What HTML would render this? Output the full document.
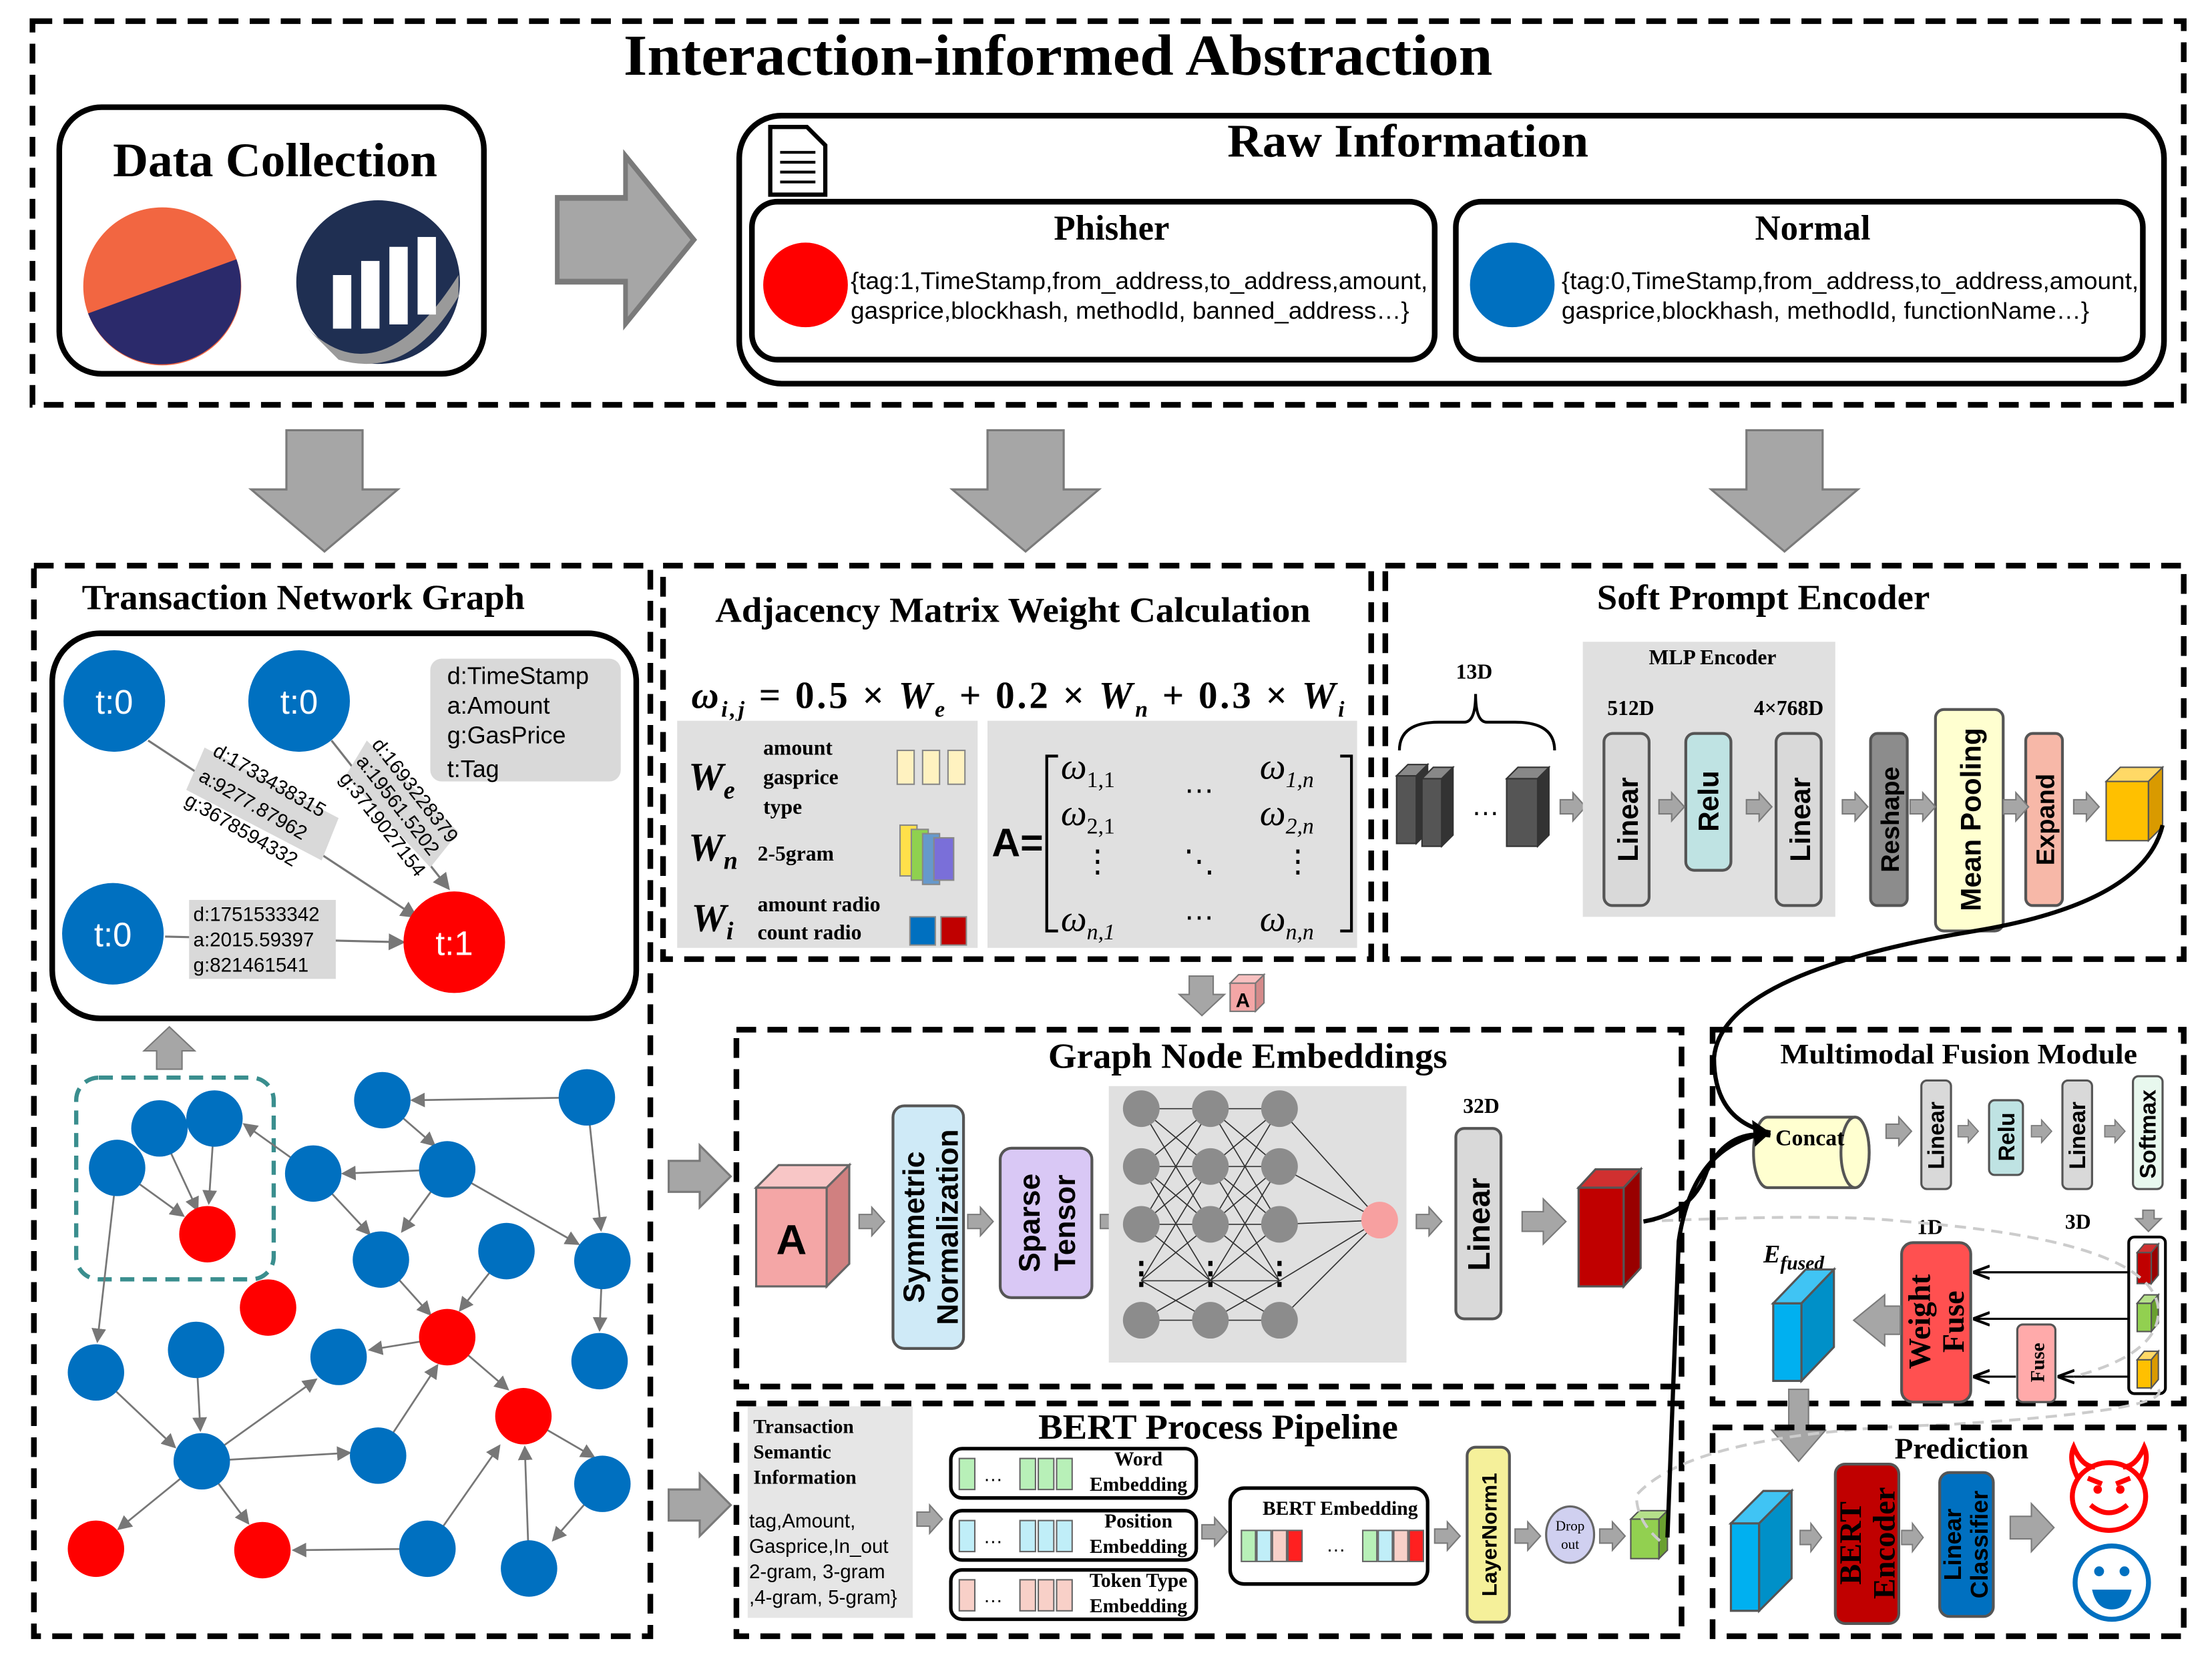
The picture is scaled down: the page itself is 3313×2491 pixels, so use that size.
<!DOCTYPE html>
<html><head><meta charset="utf-8"><style>html,body{margin:0;padding:0;background:#fff}svg{display:block}</style></head>
<body>
<svg width="3313" height="2491" viewBox="0 0 1568 1179" xmlns="http://www.w3.org/2000/svg" font-family="Liberation Sans, sans-serif">
<defs>
<g id="ra"><polygon points="0,-5 9,-5 9,-10 18,0 9,10 9,5 0,5" fill="#a6a6a6" stroke="#7a7a7a" stroke-width="1"/></g>
<g id="bra"><polygon points="0,-11 22,-11 22,-22 44,0 22,22 22,11 0,11" fill="#a6a6a6" stroke="#7a7a7a" stroke-width="1.5"/></g>
<g id="da"><polygon points="-27,0 27,0 27,42 52,42 0,86 -52,42 -27,42" fill="#a6a6a6" stroke="#7a7a7a" stroke-width="1.5"/></g>
<marker id="ah" markerWidth="8" markerHeight="8" refX="7" refY="4" orient="auto"><path d="M0,0 L8,4 L0,8 z" fill="#777"/></marker>
<marker id="ahb" markerWidth="8" markerHeight="8" refX="7" refY="4" orient="auto"><path d="M0,1 L8,4 L0,7" fill="none" stroke="#000" stroke-width="1.3"/></marker>
</defs>
<rect width="1568" height="1179" fill="#fff"/>

<!-- TOP -->
<rect x="23" y="15" width="1525" height="272" fill="none" stroke="#000" stroke-width="4" stroke-dasharray="14,8"/>
<text x="442" y="53" font-family="Liberation Serif, serif" font-weight="bold" font-size="41" textLength="616" lengthAdjust="spacingAndGlyphs">Interaction-informed Abstraction</text>
<rect x="42" y="76" width="301" height="189" rx="30" fill="#fff" stroke="#000" stroke-width="4"/>
<text x="80" y="125" font-family="Liberation Serif, serif" font-weight="bold" font-size="34" textLength="230" lengthAdjust="spacingAndGlyphs">Data Collection</text>
<circle cx="115" cy="203" r="56" fill="#f26641"/>
<path d="M62.4,222.2 L167.6,183.8 A56,56 0 0 1 62.4,222.2 Z" fill="#2b2a6b"/>
<circle cx="268" cy="200" r="58" fill="#1f2f52"/>
<path d="M215,230 Q268,285 325,195 L325,210 Q290,270 240,255 Z" fill="#9a9a9a"/>
<g fill="#fff"><rect x="236" y="195" width="13" height="38"/><rect x="256" y="185" width="13" height="48"/><rect x="276" y="175" width="13" height="55"/><rect x="296" y="168" width="13" height="55"/></g>
<use href="#bra" transform="translate(395,170) scale(2.2,2.7)"/>
<rect x="524" y="82" width="1010" height="190" rx="30" fill="none" stroke="#000" stroke-width="4"/>
<text x="870" y="111" font-family="Liberation Serif, serif" font-weight="bold" font-size="33" textLength="256" lengthAdjust="spacingAndGlyphs">Raw Information</text>
<path d="M546,90 L572,90 L585,103 L585,138 L546,138 Z" fill="#fff" stroke="#000" stroke-width="3"/>
<g stroke="#000" stroke-width="2"><line x1="553" y1="108" x2="578" y2="108"/><line x1="553" y1="115" x2="578" y2="115"/><line x1="553" y1="122" x2="578" y2="122"/><line x1="553" y1="129" x2="578" y2="129"/></g>
<rect x="533" y="143" width="484" height="112" rx="18" fill="none" stroke="#000" stroke-width="4"/>
<text x="788" y="170" font-family="Liberation Serif, serif" font-weight="bold" font-size="25" text-anchor="middle">Phisher</text>
<circle cx="571" cy="202" r="30" fill="#ff0000"/>
<text x="603" y="205" font-size="17" textLength="409" lengthAdjust="spacingAndGlyphs">{tag:1,TimeStamp,from_address,to_address,amount,</text>
<text x="603" y="226" font-size="17" textLength="396" lengthAdjust="spacingAndGlyphs">gasprice,blockhash, methodId, banned_address…}</text>
<rect x="1032" y="143" width="487" height="112" rx="18" fill="none" stroke="#000" stroke-width="4"/>
<text x="1285" y="170" font-family="Liberation Serif, serif" font-weight="bold" font-size="25" text-anchor="middle">Normal</text>
<circle cx="1072" cy="202" r="30" fill="#0070c0"/>
<text x="1107" y="205" font-size="17" textLength="409" lengthAdjust="spacingAndGlyphs">{tag:0,TimeStamp,from_address,to_address,amount,</text>
<text x="1107" y="226" font-size="17" textLength="374" lengthAdjust="spacingAndGlyphs">gasprice,blockhash, methodId, functionName…}</text>

<use href="#da" x="230" y="305"/>
<use href="#da" x="727" y="305"/>
<use href="#da" x="1265" y="305"/>

<!-- TRANSACTION NETWORK GRAPH -->
<rect x="24" y="401" width="437" height="759" fill="none" stroke="#000" stroke-width="4" stroke-dasharray="14,8"/>
<text x="58" y="432" font-family="Liberation Serif, serif" font-weight="bold" font-size="25" textLength="314" lengthAdjust="spacingAndGlyphs">Transaction Network Graph</text>
<rect x="37" y="449" width="414" height="273" rx="34" fill="none" stroke="#000" stroke-width="4"/>
<rect x="305" y="467" width="135" height="87" rx="8" fill="#d9d9d9"/>
<g font-size="17"><text x="317" y="485">d:TimeStamp</text><text x="317" y="506">a:Amount</text><text x="317" y="527">g:GasPrice</text><text x="317" y="551">t:Tag</text></g>
<g stroke="#777" stroke-width="1.5" marker-end="url(#ah)"><line x1="105" y1="525" x2="295" y2="650"/><line x1="235" y1="525" x2="318" y2="630"/><line x1="117" y1="664" x2="286" y2="668"/></g>
<g fill="#d9d9d9"><polygon points="145,530 240,580 228,610 132,560"/><polygon points="260,525 325,590 305,615 245,550"/><rect x="134" y="638" width="104" height="56"/></g>
<g font-size="14"><text transform="translate(150,535) rotate(30)">d:1733438315</text><text transform="translate(140,553) rotate(30)">a:9277.87962</text><text transform="translate(130,570) rotate(30)">g:3678594332</text>
<text transform="translate(263,528) rotate(52)">d:1693228379</text><text transform="translate(252,540) rotate(52)">a:19561.5202</text><text transform="translate(240,552) rotate(52)">g:3719027154</text>
<text x="137" y="653">d:1751533342</text><text x="137" y="671">a:2015.59397</text><text x="137" y="689">g:821461541</text></g>
<g fill="#0070c0"><circle cx="81" cy="497" r="36"/><circle cx="212" cy="497" r="36"/><circle cx="80" cy="662" r="36"/></g>
<circle cx="322" cy="668" r="36" fill="#ff0000"/>
<g fill="#fff" font-size="24" text-anchor="middle"><text x="81" y="506">t:0</text><text x="212" y="506">t:0</text><text x="80" y="671">t:0</text><text x="322" y="677">t:1</text></g>
<polygon points="120,728 102,745 111,745 111,758 129,758 129,745 138,745" fill="#a6a6a6" stroke="#7a7a7a"/>
<rect x="54" y="764" width="140" height="143" rx="16" fill="none" stroke="#3a8e8e" stroke-width="3" stroke-dasharray="10,6"/>
<g stroke="#777" stroke-width="1.3" marker-end="url(#ah)">
<line x1="113" y1="800" x2="140" y2="858"/><line x1="152" y1="793" x2="148" y2="853"/><line x1="83" y1="828" x2="130" y2="862"/>
<line x1="416" y1="778" x2="292" y2="780"/><line x1="416" y1="778" x2="426" y2="872"/><line x1="317" y1="829" x2="243" y2="832"/><line x1="317" y1="829" x2="285" y2="873"/>
<line x1="222" y1="832" x2="173" y2="797"/><line x1="271" y1="780" x2="308" y2="812"/><line x1="222" y1="832" x2="262" y2="875"/>
<line x1="317" y1="829" x2="410" y2="882"/><line x1="359" y1="887" x2="326" y2="929"/><line x1="270" y1="893" x2="305" y2="932"/>
<line x1="427" y1="894" x2="425" y2="943"/><line x1="317" y1="948" x2="360" y2="985"/><line x1="317" y1="948" x2="262" y2="957"/>
<line x1="83" y1="828" x2="69" y2="951"/><line x1="68" y1="973" x2="124" y2="1026"/><line x1="139" y1="957" x2="142" y2="1014"/>
<line x1="143" y1="1036" x2="224" y2="978"/><line x1="143" y1="1036" x2="248" y2="1030"/><line x1="143" y1="1036" x2="84" y2="1084"/><line x1="143" y1="1036" x2="176" y2="1080"/>
<line x1="268" y1="1032" x2="310" y2="968"/><line x1="303" y1="1098" x2="208" y2="1099"/><line x1="303" y1="1098" x2="354" y2="1025"/>
<line x1="375" y1="1112" x2="372" y2="1026"/><line x1="427" y1="1052" x2="392" y2="1092"/><line x1="371" y1="1004" x2="421" y2="1033"/>
</g>
<g fill="#0070c0">
<circle cx="113" cy="800" r="20"/><circle cx="152" cy="793" r="20"/><circle cx="83" cy="828" r="20"/><circle cx="222" cy="832" r="20"/><circle cx="271" cy="780" r="20"/><circle cx="317" cy="829" r="20"/><circle cx="416" cy="778" r="20"/><circle cx="270" cy="893" r="20"/><circle cx="359" cy="887" r="20"/><circle cx="427" cy="894" r="20"/><circle cx="425" cy="965" r="20"/><circle cx="68" cy="973" r="20"/><circle cx="139" cy="957" r="20"/><circle cx="240" cy="962" r="20"/><circle cx="143" cy="1036" r="20"/><circle cx="268" cy="1032" r="20"/><circle cx="427" cy="1052" r="20"/><circle cx="303" cy="1098" r="20"/><circle cx="375" cy="1112" r="20"/></g>
<g fill="#ff0000"><circle cx="147" cy="875" r="20"/><circle cx="190" cy="927" r="20"/><circle cx="317" cy="948" r="20"/><circle cx="371" cy="1004" r="20"/><circle cx="68" cy="1098" r="20"/><circle cx="186" cy="1099" r="20"/></g>

<!-- ADJACENCY -->
<rect x="470" y="401" width="502" height="279" fill="none" stroke="#000" stroke-width="4" stroke-dasharray="14,8"/>
<text x="507" y="441" font-family="Liberation Serif, serif" font-weight="bold" font-size="25" textLength="422" lengthAdjust="spacingAndGlyphs">Adjacency Matrix Weight Calculation</text>
<text x="490" y="502" font-family="Liberation Serif, serif" font-weight="bold" font-style="italic" font-size="27" textLength="463" lengthAdjust="spacing">ω<tspan font-size="16" dy="6">i,j</tspan><tspan dy="-6" font-style="normal"> = 0.5 × </tspan>W<tspan font-size="16" dy="6">e</tspan><tspan dy="-6" font-style="normal"> + 0.2 × </tspan>W<tspan font-size="16" dy="6">n</tspan><tspan dy="-6" font-style="normal"> + 0.3 × </tspan>W<tspan font-size="16" dy="6">i</tspan></text>
<rect x="480" y="511" width="213" height="161" fill="#e0e0e0"/>
<rect x="700" y="511" width="262" height="161" fill="#e0e0e0"/>
<g font-family="Liberation Serif, serif" font-weight="bold" font-style="italic" font-size="28">
<text x="488" y="560">W<tspan font-size="18" dy="6">e</tspan></text><text x="488" y="610">W<tspan font-size="18" dy="6">n</tspan></text><text x="490" y="660">W<tspan font-size="18" dy="6">i</tspan></text></g>
<g font-family="Liberation Serif, serif" font-weight="bold" font-size="15">
<text x="541" y="535">amount</text><text x="541" y="556">gasprice</text><text x="541" y="577">type</text><text x="537" y="610">2-5gram</text><text x="537" y="646">amount radio</text><text x="537" y="666">count radio</text></g>
<g stroke="#888"><rect x="636" y="532" width="12" height="24" fill="#fff2c0"/><rect x="654" y="532" width="12" height="24" fill="#fff2c0"/><rect x="672" y="532" width="12" height="24" fill="#fff2c0"/>
<rect x="638" y="585" width="12" height="36" fill="#ffe04a"/><rect x="646" y="588" width="12" height="36" fill="#8fd14f"/><rect x="654" y="591" width="12" height="36" fill="#69c"/><rect x="662" y="594" width="14" height="30" fill="#7a6fd9"/>
<rect x="645" y="650" width="18" height="20" fill="#0070c0"/><rect x="667" y="650" width="18" height="20" fill="#c00000"/></g>
<text x="703" y="607" font-weight="bold" font-size="28">A=</text>
<path d="M750,536 L742,536 L742,660 L750,660 M950,536 L958,536 L958,660 L950,660" fill="none" stroke="#000" stroke-width="2"/>
<g font-family="Liberation Serif, serif" font-style="italic" font-size="26">
<text x="752" y="552">ω<tspan font-size="16" dy="6" font-style="normal">1,1</tspan></text><text x="893" y="552">ω<tspan font-size="16" dy="6">1,n</tspan></text>
<text x="752" y="585">ω<tspan font-size="16" dy="6" font-style="normal">2,1</tspan></text><text x="893" y="585">ω<tspan font-size="16" dy="6">2,n</tspan></text>
<text x="752" y="660">ω<tspan font-size="16" dy="6">n,1</tspan></text><text x="893" y="660">ω<tspan font-size="16" dy="6">n,n</tspan></text></g>
<g font-size="22" text-anchor="middle"><text x="850" y="562">…</text><text x="850" y="652">…</text><text x="778" y="618">⋮</text><text x="920" y="618">⋮</text><text x="850" y="618">⋱</text></g>

<polygon points="843,692 860,692 860,705 868,705 852,720 836,705 843,705" fill="#a6a6a6" stroke="#7a7a7a"/>
<rect x="872" y="697" width="18" height="20" fill="#f4a6a6" stroke="#777"/><polygon points="872,697 878,691 896,691 890,697" fill="#f8c0c0" stroke="#777"/><polygon points="890,697 896,691 896,711 890,717" fill="#d48a8a" stroke="#777"/>
<text x="881" y="714" font-size="14" font-weight="bold" text-anchor="middle">A</text>

<!-- SOFT PROMPT -->
<rect x="982" y="401" width="566" height="279" fill="none" stroke="#000" stroke-width="4" stroke-dasharray="14,8"/>
<text x="1132" y="432" font-family="Liberation Serif, serif" font-weight="bold" font-size="25" textLength="236" lengthAdjust="spacingAndGlyphs">Soft Prompt Encoder</text>
<text x="1045" y="481" font-family="Liberation Serif, serif" font-weight="bold" font-size="15" text-anchor="middle">13D</text>
<path d="M992,532 Q992,512 1020,512 L1038,512 Q1046,512 1046,492 Q1046,512 1054,512 L1074,512 Q1102,512 1102,532" fill="none" stroke="#000" stroke-width="2"/>
<g stroke="#333"><rect x="990" y="550" width="14" height="48" fill="#555"/><polygon points="990,550 998,542 1012,542 1004,550" fill="#888"/><polygon points="1004,550 1012,542 1012,590 1004,598" fill="#333"/>
<rect x="1008" y="552" width="14" height="48" fill="#555"/><polygon points="1008,552 1016,544 1030,544 1022,552" fill="#888"/><polygon points="1022,552 1030,544 1030,592 1022,600" fill="#333"/>
<rect x="1068" y="552" width="22" height="48" fill="#555"/><polygon points="1068,552 1076,544 1098,544 1090,552" fill="#888"/><polygon points="1090,552 1098,544 1098,592 1090,600" fill="#333"/></g>
<text x="1053" y="578" font-size="20" text-anchor="middle">…</text>
<use href="#ra" x="1106" y="572"/>
<rect x="1122" y="455" width="179" height="195" fill="#e0e0e0"/>
<g font-family="Liberation Serif, serif" font-weight="bold" font-size="15" text-anchor="middle"><text x="1214" y="471">MLP Encoder</text><text x="1156" y="507">512D</text><text x="1268" y="507">4×768D</text></g>
<rect x="1137" y="520" width="32" height="122" rx="6" fill="#d9d9d9" stroke="#555" stroke-width="2"/>
<rect x="1195" y="520" width="32" height="97" rx="6" fill="#bfe3e3" stroke="#555" stroke-width="2"/>
<rect x="1259" y="520" width="32" height="122" rx="6" fill="#d9d9d9" stroke="#555" stroke-width="2"/>
<rect x="1326" y="520" width="26" height="122" rx="5" fill="#8c8c8c" stroke="#555" stroke-width="2"/>
<rect x="1372" y="503" width="48" height="157" rx="6" fill="#ffffd0" stroke="#555" stroke-width="2"/>
<rect x="1436" y="520" width="26" height="122" rx="5" fill="#f7b8a8" stroke="#555" stroke-width="2"/>
<g font-weight="bold" font-size="20" text-anchor="middle">
<text transform="translate(1161,581) rotate(-90)">Linear</text><text transform="translate(1218,568) rotate(-90)">Relu</text><text transform="translate(1283,581) rotate(-90)">Linear</text><text transform="translate(1346,581) rotate(-90)" font-size="18">Reshape</text><text transform="translate(1404,581) rotate(-90)">Mean Pooling</text><text transform="translate(1456,581) rotate(-90)" font-size="18">Expand</text></g>
<use href="#ra" x="1176" y="572"/><use href="#ra" x="1238" y="572"/><use href="#ra" x="1306" y="572"/><use href="#ra" x="1354" y="572"/><use href="#ra" x="1420" y="572"/><use href="#ra" x="1470" y="572"/>
<g stroke="#555"><rect x="1493" y="554" width="30" height="42" fill="#ffc000"/><polygon points="1493,554 1503,544 1533,544 1523,554" fill="#ffd966"/><polygon points="1523,554 1533,544 1533,586 1523,596" fill="#d99a00"/></g>

<!-- GRAPH NODE EMBEDDINGS -->
<rect x="522" y="730" width="670" height="253" fill="none" stroke="#000" stroke-width="4" stroke-dasharray="14,8"/>
<text x="743" y="757" font-family="Liberation Serif, serif" font-weight="bold" font-size="25" textLength="283" lengthAdjust="spacingAndGlyphs">Graph Node Embeddings</text>
<use href="#bra" x="474" y="834"/>
<g stroke="#666" stroke-width="1.5"><rect x="536" y="842" width="50" height="70" fill="#f4a6a6"/><polygon points="536,842 552,826 602,826 586,842" fill="#f8c6c6"/><polygon points="586,842 602,826 602,896 586,912" fill="#d08080"/></g>
<text x="561" y="889" font-weight="bold" font-size="30" text-anchor="middle">A</text>
<use href="#ra" x="609" y="866"/>
<rect x="633" y="784" width="50" height="172" rx="8" fill="#cfeaf7" stroke="#555" stroke-width="2"/>
<text transform="translate(655,870) rotate(-90)" font-weight="bold" font-size="21" text-anchor="middle">Symmetric</text>
<text transform="translate(679,870) rotate(-90)" font-weight="bold" font-size="21" text-anchor="middle">Normalization</text>
<use href="#ra" x="686" y="866"/>
<rect x="709" y="814" width="65" height="106" rx="8" fill="#d9c8f5" stroke="#555" stroke-width="2"/>
<text transform="translate(737,867) rotate(-90)" font-weight="bold" font-size="21" text-anchor="middle">Sparse</text>
<text transform="translate(762,867) rotate(-90)" font-weight="bold" font-size="21" text-anchor="middle">Tensor</text>
<use href="#ra" x="780" y="866"/>
<rect x="786" y="770" width="211" height="196" fill="#e0e0e0"/>
<g stroke="#333" stroke-width="0.8" fill="none">
<path d="M809,786 L858,786 M809,786 L858,827 M809,827 L858,786 M809,827 L858,868 M809,868 L858,827 M809,868 L858,908 M809,908 L858,868 M809,908 L858,936 M809,936 L858,908 M809,786 L858,868 M809,868 L858,786 M809,827 L858,908 M809,908 L858,827 M809,827 L858,827 M809,868 L858,868 M809,908 L858,908 M809,936 L858,936"/>
<path d="M858,786 L907,786 M858,786 L907,827 M858,827 L907,786 M858,827 L907,868 M858,868 L907,827 M858,868 L907,908 M858,908 L907,868 M858,908 L907,936 M858,936 L907,908 M858,786 L907,868 M858,868 L907,786 M858,827 L907,908 M858,908 L907,827 M858,827 L907,827 M858,868 L907,868 M858,908 L907,908 M858,936 L907,936"/>
<path d="M907,786 L978,865 M907,827 L978,865 M907,868 L978,865 M907,908 L978,865 M907,936 L978,865"/></g>
<g fill="#8c8c8c"><circle cx="809" cy="786" r="13"/><circle cx="809" cy="827" r="13"/><circle cx="809" cy="868" r="13"/><circle cx="809" cy="936" r="13"/>
<circle cx="858" cy="786" r="13"/><circle cx="858" cy="827" r="13"/><circle cx="858" cy="868" r="13"/><circle cx="858" cy="936" r="13"/>
<circle cx="907" cy="786" r="13"/><circle cx="907" cy="827" r="13"/><circle cx="907" cy="868" r="13"/><circle cx="907" cy="936" r="13"/></g>
<circle cx="978" cy="865" r="13" fill="#f7a0a0"/>
<g font-size="22" font-weight="bold" text-anchor="middle"><text x="809" y="910">⋮</text><text x="858" y="910">⋮</text><text x="907" y="910">⋮</text></g>
<use href="#ra" x="1004" y="866"/>
<text x="1050" y="789" font-family="Liberation Serif, serif" font-weight="bold" font-size="15" text-anchor="middle">32D</text>
<rect x="1032" y="800" width="32" height="135" rx="6" fill="#d9d9d9" stroke="#555" stroke-width="2"/>
<text transform="translate(1056,868) rotate(-90)" font-weight="bold" font-size="22" text-anchor="middle">Linear</text>
<polygon points="1079,859 1094,859 1094,850 1110,866 1094,882 1094,873 1079,873" fill="#a6a6a6" stroke="#7a7a7a"/>
<g stroke="#555" stroke-width="1.5"><rect x="1119" y="842" width="32" height="70" fill="#c00000"/><polygon points="1119,842 1131,829 1163,829 1151,842" fill="#d03030"/><polygon points="1151,842 1163,829 1163,899 1151,912" fill="#990000"/></g>

<!-- BERT PIPELINE -->
<rect x="522" y="995" width="670" height="165" fill="none" stroke="#000" stroke-width="4" stroke-dasharray="14,8"/>
<text x="736" y="1020" font-family="Liberation Serif, serif" font-weight="bold" font-size="25" textLength="255" lengthAdjust="spacingAndGlyphs">BERT Process Pipeline</text>
<use href="#bra" x="474" y="1067"/>
<rect x="530" y="997" width="117" height="150" fill="#e6e6e6"/>
<g font-family="Liberation Serif, serif" font-weight="bold" font-size="14"><text x="534" y="1016">Transaction</text><text x="534" y="1034">Semantic</text><text x="534" y="1052">Information</text></g>
<g font-size="14"><text x="531" y="1083">tag,Amount,</text><text x="531" y="1101">Gasprice,In_out</text><text x="531" y="1119">2-gram, 3-gram</text><text x="531" y="1137">,4-gram, 5-gram}</text></g>
<use href="#ra" x="650" y="1077"/>
<g stroke="#000" stroke-width="2.5" fill="#fff"><rect x="674" y="1027" width="174" height="35" rx="8"/><rect x="674" y="1071" width="174" height="35" rx="8"/><rect x="674" y="1113" width="174" height="35" rx="8"/><rect x="872" y="1055" width="140" height="68" rx="10"/></g>
<g stroke="#666" stroke-width="1">
<g fill="#b8f0b8"><rect x="680" y="1034" width="11" height="22"/><rect x="723" y="1034" width="11" height="22"/><rect x="736" y="1034" width="11" height="22"/><rect x="749" y="1034" width="11" height="22"/></g>
<g fill="#c0eef8"><rect x="680" y="1078" width="11" height="22"/><rect x="723" y="1078" width="11" height="22"/><rect x="736" y="1078" width="11" height="22"/><rect x="749" y="1078" width="11" height="22"/></g>
<g fill="#f8d0c8"><rect x="680" y="1120" width="11" height="22"/><rect x="723" y="1120" width="11" height="22"/><rect x="736" y="1120" width="11" height="22"/><rect x="749" y="1120" width="11" height="22"/></g>
<rect x="880" y="1085" width="10" height="22" fill="#b8f0b8"/><rect x="891" y="1085" width="10" height="22" fill="#c0eef8"/><rect x="902" y="1085" width="10" height="22" fill="#f8d0c8"/><rect x="913" y="1085" width="10" height="22" fill="#ff2020"/>
<rect x="966" y="1085" width="10" height="22" fill="#b8f0b8"/><rect x="977" y="1085" width="10" height="22" fill="#c0eef8"/><rect x="988" y="1085" width="10" height="22" fill="#f8d0c8"/><rect x="999" y="1085" width="10" height="22" fill="#ff2020"/></g>
<g font-size="14"><text x="697" y="1050">…</text><text x="697" y="1094">…</text><text x="697" y="1136">…</text><text x="940" y="1100">…</text></g>
<g font-family="Liberation Serif, serif" font-weight="bold" font-size="14" text-anchor="middle">
<text x="807" y="1039">Word</text><text x="807" y="1057">Embedding</text><text x="807" y="1083">Position</text><text x="807" y="1101">Embedding</text><text x="807" y="1125">Token Type</text><text x="807" y="1143">Embedding</text><text x="950" y="1074">BERT Embedding</text></g>
<use href="#ra" x="852" y="1086"/><use href="#ra" x="1017" y="1089"/>
<rect x="1040" y="1026" width="30" height="124" rx="6" fill="#f5f09a" stroke="#555" stroke-width="2"/>
<text transform="translate(1061,1088) rotate(-90)" font-size="15" font-weight="bold" text-anchor="middle">LayerNorm1</text>
<use href="#ra" x="1074" y="1089"/>
<ellipse cx="1113" cy="1088" rx="17" ry="20" fill="#d0d0f0" stroke="#666" stroke-width="1.5"/>
<text x="1113" y="1085" font-family="Liberation Serif, serif" font-size="10" text-anchor="middle">Drop</text><text x="1113" y="1098" font-family="Liberation Serif, serif" font-size="10" text-anchor="middle">out</text>
<use href="#ra" x="1134" y="1089"/>
<g stroke="#555"><rect x="1156" y="1077" width="20" height="28" fill="#92d050"/><polygon points="1156,1077 1162,1071 1182,1071 1176,1077" fill="#b5e08a"/><polygon points="1176,1077 1182,1071 1182,1099 1176,1105" fill="#6aa030"/></g>

<!-- MULTIMODAL FUSION -->
<rect x="1214" y="730" width="334" height="265" fill="none" stroke="#000" stroke-width="4" stroke-dasharray="14,8"/>
<text x="1262" y="754" font-family="Liberation Serif, serif" font-weight="bold" font-size="20" textLength="253" lengthAdjust="spacingAndGlyphs">Multimodal Fusion Module</text>
<path d="M1253,792 L1315,792 A10,25 0 0 1 1315,842 L1253,842 A10,25 0 0 1 1253,792 Z" fill="#ffffd0" stroke="#555" stroke-width="2"/>
<ellipse cx="1315" cy="817" rx="10" ry="25" fill="#ffffd0" stroke="#555" stroke-width="2"/>
<text x="1283" y="812" font-family="Liberation Serif, serif" font-weight="bold" font-size="16" text-anchor="middle">Concat</text>
<use href="#ra" x="1337" y="802"/>
<rect x="1362" y="766" width="21" height="77" rx="4" fill="#d9d9d9" stroke="#555" stroke-width="1.5"/>
<rect x="1410" y="780" width="24" height="53" rx="4" fill="#bfe3e3" stroke="#555" stroke-width="1.5"/>
<rect x="1462" y="766" width="21" height="77" rx="4" fill="#d9d9d9" stroke="#555" stroke-width="1.5"/>
<rect x="1512" y="763" width="21" height="80" rx="4" fill="#e8f8ee" stroke="#555" stroke-width="1.5"/>
<g font-weight="bold" font-size="16" text-anchor="middle"><text transform="translate(1378,805) rotate(-90)">Linear</text><text transform="translate(1428,806) rotate(-90)">Relu</text><text transform="translate(1478,805) rotate(-90)">Linear</text><text transform="translate(1528,804) rotate(-90)">Softmax</text></g>
<use href="#ra" transform="translate(1388,802) scale(0.8)"/><use href="#ra" transform="translate(1440,802) scale(0.8)"/><use href="#ra" transform="translate(1492,802) scale(0.8)"/>
<g font-family="Liberation Serif, serif" font-weight="bold" font-size="15" text-anchor="middle"><text x="1368" y="875">1D</text><text x="1473" y="871">3D</text></g>
<polygon points="1519,858 1527,858 1527,864 1532,864 1523,873 1514,864 1519,864" fill="#a6a6a6" stroke="#7a7a7a"/>
<rect x="1509" y="877" width="26" height="111" rx="4" fill="#fff" stroke="#000" stroke-width="2"/>
<g stroke="#555" stroke-width="1"><rect x="1515" y="888" width="10" height="22" fill="#c00000"/><polygon points="1515,888 1520,882 1530,882 1525,888" fill="#d03030"/><polygon points="1525,888 1530,882 1530,904 1525,910" fill="#900"/>
<rect x="1515" y="924" width="10" height="20" fill="#92d050"/><polygon points="1515,924 1520,918 1530,918 1525,924" fill="#b5e08a"/><polygon points="1525,924 1530,918 1530,938 1525,944" fill="#6aa030"/>
<rect x="1515" y="964" width="10" height="20" fill="#ffc000"/><polygon points="1515,964 1520,958 1530,958 1525,964" fill="#ffd966"/><polygon points="1525,964 1530,958 1530,978 1525,984" fill="#d99a00"/></g>
<rect x="1348" y="881" width="49" height="113" rx="8" fill="#ff5050" stroke="#555" stroke-width="2"/>
<text transform="translate(1372,937) rotate(-90)" font-family="Liberation Serif, serif" font-weight="bold" font-size="22" text-anchor="middle"><tspan x="0" dy="-4">Weight</tspan><tspan x="0" dy="24">Fuse</tspan></text>
<rect x="1430" y="939" width="27" height="55" rx="4" fill="#ffaaaa" stroke="#555" stroke-width="1.5"/>
<text transform="translate(1449,966) rotate(-90)" font-family="Liberation Serif, serif" font-weight="bold" font-size="14" text-anchor="middle">Fuse</text>
<g stroke="#000" stroke-width="1.5" marker-end="url(#ahb)"><line x1="1509" y1="902" x2="1400" y2="902"/><line x1="1509" y1="935" x2="1400" y2="935"/><line x1="1509" y1="976" x2="1460" y2="976"/><line x1="1429" y1="976" x2="1400" y2="976"/></g>
<polygon points="1347,926 1336,926 1336,918 1314,936 1336,954 1336,946 1347,946" fill="#a6a6a6" stroke="#7a7a7a"/>
<text x="1250" y="895" font-family="Liberation Serif, serif" font-weight="bold" font-style="italic" font-size="18">E<tspan font-size="14" dy="5">fused</tspan></text>
<g stroke="#555" stroke-width="1.5"><rect x="1257" y="924" width="20" height="55" fill="#00b0f0"/><polygon points="1257,924 1280,900 1300,900 1277,924" fill="#40c4f4"/><polygon points="1277,924 1300,900 1300,955 1277,979" fill="#0090c8"/></g>
<polygon points="1268,985 1282,985 1282,1014 1294,1014 1275,1036 1256,1014 1268,1014" fill="#a6a6a6" stroke="#7a7a7a"/>
<path d="M1165,866 Q1300,860 1350,866 Q1530,880 1530,930 Q1530,960 1470,976 M1530,985 Q1540,1000 1380,1010 Q1200,1015 1160,1060 Q1160,1080 1180,1095" fill="none" stroke="#ccc" stroke-width="2" stroke-dasharray="8,5"/>
<path d="M1165,866 Q1200,860 1210,830 Q1225,800 1255,805" fill="none" stroke="#000" stroke-width="3"/>
<path d="M1182,1090 Q1185,1000 1190,880 Q1200,810 1255,803" fill="none" stroke="#000" stroke-width="3"/>
<path d="M1533,585 Q1520,640 1400,660 Q1220,690 1215,750 Q1215,795 1255,803" fill="none" stroke="#000" stroke-width="3"/>
<polygon points="1255,803 1242,794 1244,813" fill="#000"/>

<!-- PREDICTION -->
<rect x="1214" y="1012" width="334" height="148" fill="none" stroke="#000" stroke-width="4" stroke-dasharray="14,8"/>
<text x="1343" y="1034" font-family="Liberation Serif, serif" font-weight="bold" font-size="21" textLength="95" lengthAdjust="spacingAndGlyphs">Prediction</text>
<g stroke="#555" stroke-width="1.5"><rect x="1227" y="1080" width="20" height="62" fill="#00b0f0"/><polygon points="1227,1080 1250,1057 1270,1057 1247,1080" fill="#40c4f4"/><polygon points="1247,1080 1270,1057 1270,1119 1247,1142" fill="#0090c8"/></g>
<use href="#ra" transform="translate(1276,1090) scale(0.85,1)"/>
<rect x="1301" y="1038" width="45" height="113" rx="7" fill="#c00000" stroke="#555" stroke-width="2"/>
<text transform="translate(1323,1094) rotate(-90)" font-family="Liberation Serif, serif" font-weight="bold" font-size="22" text-anchor="middle"><tspan x="0" dy="-4">BERT</tspan><tspan x="0" dy="24">Encoder</tspan></text>
<use href="#ra" transform="translate(1348,1090) scale(0.85,1)"/>
<rect x="1375" y="1044" width="38" height="102" rx="7" fill="#0070c0" stroke="#555" stroke-width="2"/>
<text transform="translate(1393,1095) rotate(-90)" font-weight="bold" font-size="17" text-anchor="middle"><tspan x="0" dy="-3">Linear</tspan><tspan x="0" dy="19">Classifier</tspan></text>
<polygon points="1425,1075 1440,1075 1440,1066 1456,1083 1440,1100 1440,1091 1425,1091" fill="#a6a6a6" stroke="#7a7a7a"/>
<g fill="none" stroke="#ff0000" stroke-width="3.5"><ellipse cx="1495" cy="1061" rx="26" ry="24"/><path d="M1473,1048 Q1466,1035 1470,1026 Q1476,1040 1485,1040 M1517,1048 Q1524,1035 1520,1026 Q1514,1040 1505,1040"/><path d="M1482,1067 Q1495,1078 1508,1067"/><path d="M1480,1048 L1490,1052 M1510,1048 L1500,1052"/></g>
<circle cx="1487" cy="1056" r="3" fill="#f00"/><circle cx="1503" cy="1056" r="3" fill="#f00"/>
<circle cx="1497" cy="1122" r="26" fill="none" stroke="#0070c0" stroke-width="3.5"/>
<circle cx="1488" cy="1114" r="3.5" fill="#0070c0"/><circle cx="1506" cy="1114" r="3.5" fill="#0070c0"/>
<path d="M1483,1127 L1511,1127 Q1508,1141 1497,1141 Q1486,1141 1483,1127 Z" fill="#0070c0"/>
</svg>
</body></html>
